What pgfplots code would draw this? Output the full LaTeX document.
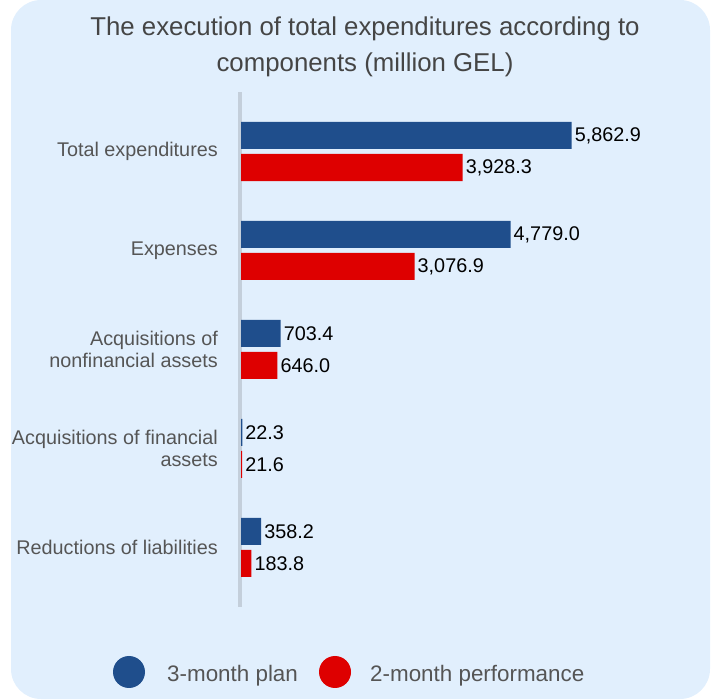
\documentclass[border=0pt]{standalone}
\usepackage{fontspec}
\setmainfont{Liberation Sans}
\usepackage{pgfplots}
\pgfplotsset{compat=1.18}

\definecolor{bgblue}{HTML}{E1EFFD}
\definecolor{planblue}{HTML}{1F4E8C}
\definecolor{perfred}{HTML}{DE0000}
\definecolor{axisgray}{HTML}{C4CFDB}
\definecolor{labelgray}{HTML}{555555}
\definecolor{titlegray}{HTML}{454545}

\newcommand{\labelfont}{\fontsize{19.8bp}{22bp}\selectfont}
\newcommand{\titlefont}{\fontsize{25.8bp}{36bp}\selectfont}
\newcommand{\legendfont}{\fontsize{22.4bp}{26bp}\selectfont}

\begin{document}
\begin{tikzpicture}
% page frame and rounded panel
\path (0bp,0bp) rectangle (717bp,700bp);
\fill[bgblue, rounded corners=30bp] (11bp,1bp) rectangle (710bp,700bp);

% title
\node[anchor=base, text=titlegray, font=\titlefont, inner sep=0pt] at (365bp,664bp)
  {The execution of total expenditures according to};
\node[anchor=base, text=titlegray, font=\titlefont, inner sep=0pt] at (365bp,628bp)
  {components (million GEL)};

\begin{axis}[
  at={(241bp,93.1bp)}, anchor=south west,
  scale only axis,
  width=451.2bp, height=514.8bp,
  xmin=0, xmax=8000,
  ymin=-0.6, ymax=4.6,
  xbar,
  bar width=27bp,
  axis x line=none,
  axis y line*=left,
  y axis line style={draw=none},
  ytick={0,1,2,3,4},
  yticklabels={Reductions of liabilities,
    {Acquisitions of financial\\assets},
    {Acquisitions of\\nonfinancial assets},
    Expenses,
    Total expenditures},
  ytick style={draw=none},
  major tick length=0pt,
  yticklabel style={align=right, font=\labelfont, text=labelgray,
    inner sep=0pt, xshift=-23bp},
  clip=false,
  nodes near coords,
  /pgf/number format/.cd, fixed, fixed zerofill, precision=1,
    1000 sep={,}, assume math mode=true,
  /pgfplots/.cd,
  every node near coord/.append style={anchor=west, inner sep=0pt,
    xshift=3bp, font=\labelfont, text=black},
]
% vertical axis line, under the bars
\draw[axisgray, line width=3bp, xshift=-1bp] (axis cs:0,-0.6) -- (axis cs:0,4.6);
% 3-month plan
\addplot[fill=planblue, draw=none, bar shift=16bp] coordinates {
  (358.2,0) (22.3,1) (703.4,2) (4779.0,3) (5862.9,4)};
% 2-month performance
\addplot[fill=perfred, draw=none, bar shift=-16bp] coordinates {
  (183.8,0) (21.6,1) (646.0,2) (3076.9,3) (3928.3,4)};
\end{axis}

% legend
\fill[planblue] (129bp,28bp) circle (16bp);
\node[anchor=base west, inner sep=0pt, font=\legendfont, text=labelgray] at (167bp,19bp) {3-month plan};
\fill[perfred] (335bp,28bp) circle (16bp);
\node[anchor=base west, inner sep=0pt, font=\legendfont, text=labelgray] at (370bp,19bp) {2-month performance};
\end{tikzpicture}
\end{document}
